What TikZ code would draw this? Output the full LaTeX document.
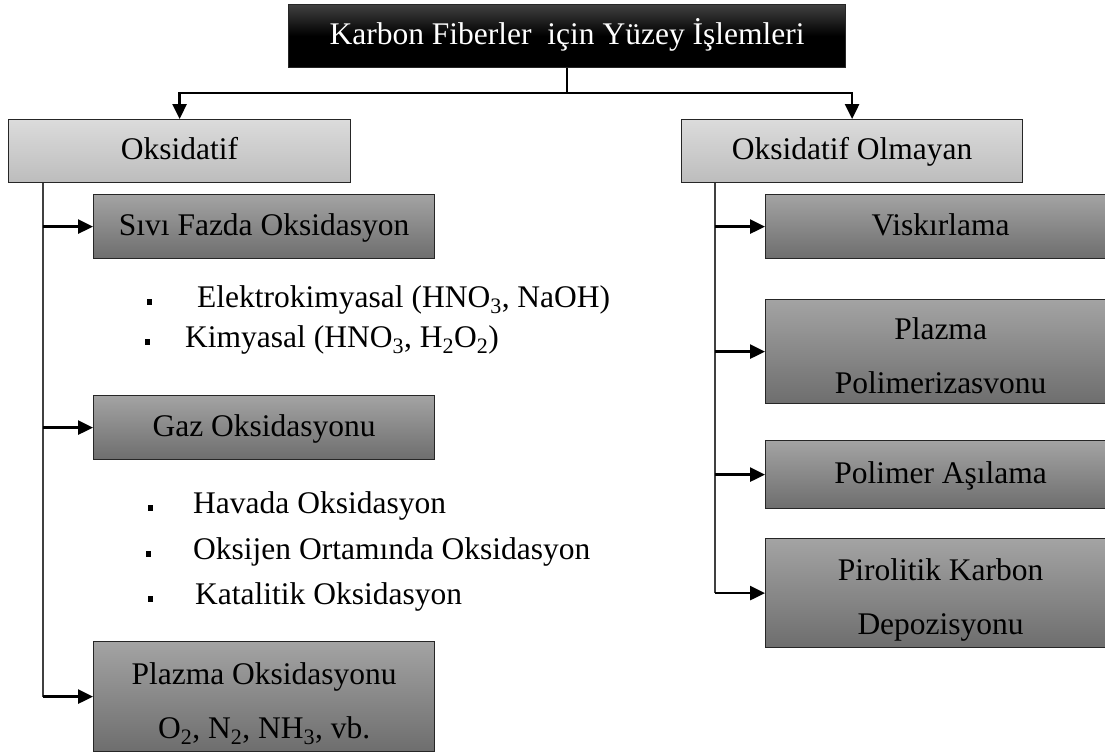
\documentclass[tikz,border=0pt]{standalone}
\usepackage{fontspec}
\setmainfont{Liberation Serif}
\usetikzlibrary{arrows.meta, positioning, calc}

\begin{document}
\begin{tikzpicture}[x=1pt, y=-1pt, every node/.style={font=\fontsize{31.5}{54}\selectfont},
  box/.style={draw=black!85, line width=1.2pt, inner sep=0pt, anchor=north west, align=center,
    text height=24pt, text depth=7pt},
  headbox/.style={box, top color=black!75, bottom color=black, middle color=black, text=white},
  groupbox/.style={box, top color=black!14, bottom color=black!26},
  leafbox/.style={box, top color=black!36, bottom color=black!57},
  twoline/.style={text height=90pt},
  trunk/.style={line width=2pt, black!75},
  arr/.style={line width=2.6pt, -{Triangle[length=15pt, width=14pt]}},
  dot/.style={fill=black, minimum width=5pt, minimum height=6pt, inner sep=0pt},
  item/.style={anchor=west, inner sep=0pt}]
  \useasboundingbox (0,0) rectangle (1105,753);

  % header and the two groups
  \node[headbox, minimum width=557, minimum height=63] (head) at (288,4) {Karbon Fiberler~ için Yüzey İşlemleri};
  \node[groupbox, minimum width=342, minimum height=63] (oks) at (8,119) {Oksidatif};
  \node[groupbox, minimum width=341, minimum height=63] (nonoks) at (681,119) {Oksidatif Olmayan};

  \coordinate (split) at (head.south |- 0,93);
  \draw[arr] (head.south) -- (split) -| (oks.north);
  \draw[arr] (split) -| (nonoks.north);

  % oksidatif branch
  \node[leafbox, minimum width=341, minimum height=64] (sivi) at (93,194) {Sıvı Fazda Oksidasyon};
  \node[leafbox, minimum width=341, minimum height=64] (gaz) at (93,395) {Gaz Oksidasyonu};
  \node[leafbox, twoline, minimum width=341, minimum height=110] (plazox) at (93,641) {Plazma Oksidasyonu\\O\textsubscript{2}, N\textsubscript{2}, NH\textsubscript{3}, vb.};

  \node[dot] (d1) at (149,302) {};
  \node[item] (elek) at (197,300) {Elektrokimyasal (HNO\textsubscript{3}, NaOH)};
  \node[dot] (d2) at (147,342) {};
  \node[item] (kim) at (185,340) {Kimyasal (HNO\textsubscript{3}, H\textsubscript{2}O\textsubscript{2})};
  \node[dot] (d3) at (150,508) {};
  \node[item] (hava) at (193,506) {Havada Oksidasyon};
  \node[dot] (d4) at (148,554) {};
  \node[item] (oksi) at (193,552) {Oksijen Ortamında Oksidasyon};
  \node[dot] (d5) at (150,599) {};
  \node[item] (kata) at (195,597) {Katalitik Oksidasyon};

  \coordinate (lt) at ([xshift=35pt]oks.south west);
  \draw[trunk] (lt) -- (lt |- plazox.west);
  \foreach \n in {sivi, gaz, plazox}
    \draw[arr] (lt |- \n.west) -- (\n.west);

  % oksidatif olmayan branch
  \node[leafbox, minimum width=350, minimum height=64] (visk) at (765,194) {Viskırlama};
  \node[leafbox, twoline, minimum width=350, minimum height=104] (plazpol) at (765,299) {Plazma\\Polimerizasvonu};
  \node[leafbox, minimum width=350, minimum height=68] (asil) at (765,440) {Polimer Aşılama};
  \node[leafbox, twoline, minimum width=350, minimum height=109] (piro) at (765,538) {Pirolitik Karbon\\Depozisyonu};

  \coordinate (rt) at ([xshift=34pt]nonoks.south west);
  \draw[trunk] (rt) -- (rt |- piro.west);
  \foreach \n in {visk, plazpol, asil, piro}
    \draw[arr] (rt |- \n.west) -- (\n.west);
\end{tikzpicture}
\end{document}
